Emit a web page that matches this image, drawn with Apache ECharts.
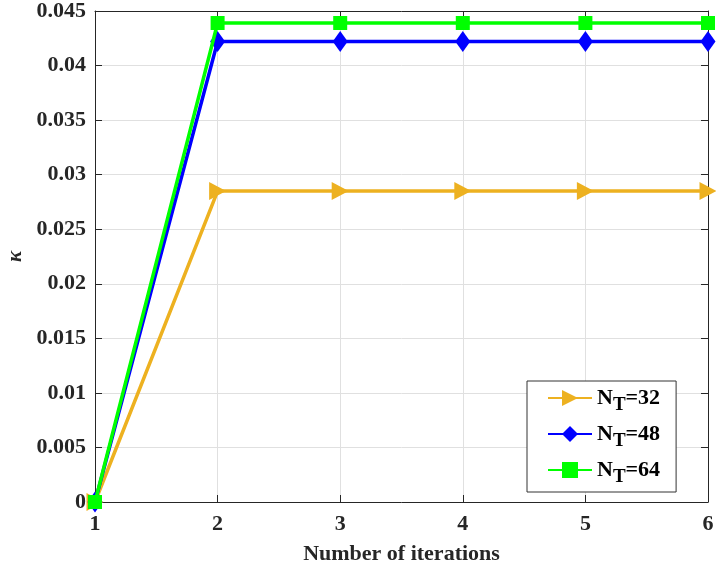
<!DOCTYPE html>
<html>
<head>
<meta charset="utf-8">
<script src="https://cdn.jsdelivr.net/npm/echarts@6/dist/echarts.min.js"></script>
<style>
  html, body { margin: 0; padding: 0; background: #fff; }
  #chart { width: 716px; height: 570px; }
</style>
</head>
<body>
<div id="chart"></div>
<script>
// Iteration index and the resulting kappa value for each antenna count
const iterations = [1, 2, 3, 4, 5, 6];
const kappaNT32 = [0, 0.0285, 0.0285, 0.0285, 0.0285, 0.0285];
const kappaNT48 = [0, 0.0422, 0.0422, 0.0422, 0.0422, 0.0422];
const kappaNT64 = [0, 0.0439, 0.0439, 0.0439, 0.0439, 0.0439];
const seriesNames = ['NT32', 'NT48', 'NT64'];
const legendSuffix = { NT32: '=32', NT48: '=48', NT64: '=64' };

const FONT = '"Liberation Serif", "Times New Roman", serif';
const axisColor = '#262626';
const FS = 22;

const toPairs = (ys) => iterations.map((x, i) => [x, ys[i]]);

const chart = echarts.init(document.getElementById('chart'), null, { renderer: 'canvas' });

const option = {
  backgroundColor: '#fff',
  animation: false,
  grid: { left: 95, right: 8, top: 11, bottom: 68, containLabel: false, outerBoundsMode: 'none' },
  legend: {
    data: seriesNames,
    orient: 'vertical',
    left: 527, top: 381,
    padding: [6, 16, 5, 20],
    itemGap: 8,
    itemWidth: 44,
    itemHeight: 20,
    backgroundColor: '#fff',
    borderColor: '#333',
    borderWidth: 1,
    borderRadius: 0,
    formatter: (name) => '{n|N}{s|T}{n|' + legendSuffix[name] + '}',
    textStyle: {
      rich: {
        n: { fontFamily: FONT, fontWeight: 'bold', fontSize: FS, color: '#000' },
        s: { fontFamily: FONT, fontWeight: 'bold', fontSize: 19, color: '#000', verticalAlign: 'bottom', padding: [15, 0, 0, 0] }
      }
    }
  },
  xAxis: [{
    type: 'value',
    min: 1, max: 6, interval: 1,
    name: 'Number of iterations',
    nameLocation: 'middle',
    nameGap: 41,
    nameTextStyle: { fontFamily: FONT, fontWeight: 'bold', fontSize: FS, color: axisColor },
    axisLine: { show: true, lineStyle: { color: axisColor, width: 1 } },
    axisTick: { show: true, inside: true, length: 7, lineStyle: { color: axisColor } },
    axisLabel: { fontFamily: FONT, fontWeight: 'bold', fontSize: FS, color: axisColor, margin: 11 },
    splitLine: { show: true, lineStyle: { color: '#e0e0e0', width: 1 } }
  }, {
    type: 'value', position: 'top',
    min: 1, max: 6, interval: 1,
    axisLine: { show: true, onZero: false, lineStyle: { color: axisColor, width: 1 } },
    axisTick: { show: true, inside: true, length: 7, lineStyle: { color: axisColor } },
    axisLabel: { show: false },
    splitLine: { show: false }
  }],
  yAxis: [{
    type: 'value',
    min: 0, max: 0.045, interval: 0.005,
    name: 'κ',
    nameLocation: 'middle',
    nameGap: 67,
    nameRotate: 90,
    nameTextStyle: { fontFamily: FONT, fontStyle: 'italic', fontWeight: 'bold', fontSize: 21, color: axisColor },
    axisLine: { show: true, lineStyle: { color: axisColor, width: 1 } },
    axisTick: { show: true, inside: true, length: 7, lineStyle: { color: axisColor } },
    axisLabel: {
      fontFamily: FONT, fontWeight: 'bold', fontSize: FS, color: axisColor, margin: 9,
      formatter: (v) => String(parseFloat(v.toFixed(3)))
    },
    splitLine: { show: true, lineStyle: { color: '#e0e0e0', width: 1 } }
  }, {
    type: 'value', position: 'right',
    min: 0, max: 0.045, interval: 0.005,
    axisLine: { show: true, onZero: false, lineStyle: { color: axisColor, width: 1 } },
    axisTick: { show: true, inside: true, length: 7, lineStyle: { color: axisColor } },
    axisLabel: { show: false },
    splitLine: { show: false }
  }],
  series: [{
    name: 'NT32',
    type: 'line',
    data: toPairs(kappaNT32),
    color: '#EDB120',
    lineStyle: { width: 3.5, color: '#EDB120' },
    symbol: 'triangle',
    symbolRotate: -90,
    symbolSize: [18, 17],
    itemStyle: { color: '#EDB120' },
    z: 2
  }, {
    name: 'NT48',
    type: 'line',
    data: toPairs(kappaNT48),
    color: '#0000FF',
    lineStyle: { width: 3.5, color: '#0000FF' },
    symbol: 'diamond',
    symbolSize: [15, 21],
    itemStyle: { color: '#0000FF' },
    z: 3
  }, {
    name: 'NT64',
    type: 'line',
    data: toPairs(kappaNT64),
    color: '#00FF00',
    lineStyle: { width: 3.5, color: '#00FF00' },
    symbol: 'rect',
    symbolSize: 14,
    itemStyle: { color: '#00FF00' },
    z: 4
  }]
};

chart.setOption(option);
</script>
</body>
</html>
